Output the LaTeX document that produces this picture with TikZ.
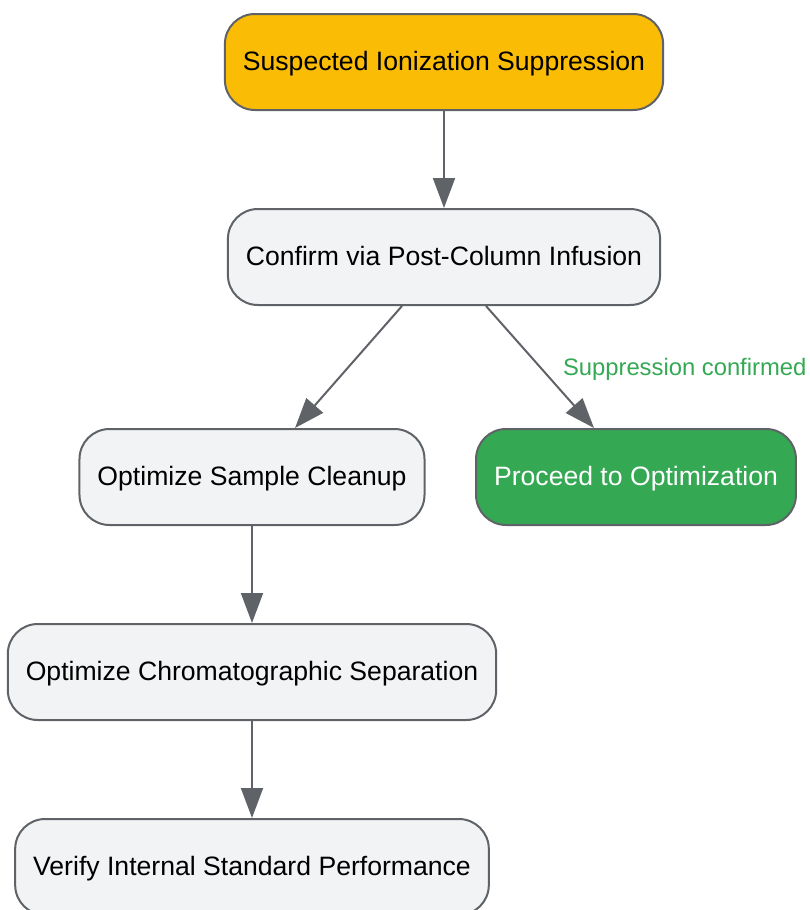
\documentclass[tikz,border=0pt]{standalone}
\usepackage{fontspec}
\setmainfont{Liberation Sans}
\usetikzlibrary{arrows.meta,positioning}
\definecolor{edgegray}{HTML}{5F6368}
\definecolor{boxgray}{HTML}{F1F3F4}
\definecolor{warnyellow}{HTML}{FBBC05}
\definecolor{okgreen}{HTML}{34A853}

\begin{document}
\begin{tikzpicture}[x=0.5pt,y=-0.5pt,
  box/.style={draw=edgegray,line width=1pt,rounded corners=15pt,fill=boxgray,minimum height=48pt,inner xsep=9pt,text height=0.86em,text depth=0pt,font=\fontsize{13.3}{16}\selectfont},
  startbox/.style={box,fill=warnyellow},
  donebox/.style={box,fill=okgreen,text=white},
  node distance=48.5pt]

\useasboundingbox (0,0) rectangle (809,910);

% main line
\node[startbox] (suspected) at (444,62) {Suspected Ionization Suppression};
\node[box,below=of suspected] (confirm) {Confirm via Post-Column Infusion};
% branches
\node[box] (cleanup) at (252,477) {Optimize Sample Cleanup};
\node[donebox] (proceed) at (636,477) {Proceed to Optimization};
\node[box,below=of cleanup] (separation) {Optimize Chromatographic Separation};
\node[box,below=of separation] (internal) {Verify Internal Standard Performance};

\begin{scope}[every path/.style={draw=edgegray,line width=1pt,-{Triangle[length=15pt,width=11pt]}}]
\path (suspected) -- (confirm);
\path ([xshift=-21pt]confirm.south) -- ([xshift=21.5pt]cleanup.north);
\path ([xshift=21pt]confirm.south) -- node[anchor=west,inner sep=0pt,xshift=11pt,text height=0.86em,text depth=0pt,text=okgreen,font=\fontsize{11.9}{14}\selectfont]{Suppression confirmed} ([xshift=-21pt]proceed.north);
\path (cleanup) -- (separation);
\path (separation) -- (internal);
\end{scope}

\end{tikzpicture}
\end{document}
